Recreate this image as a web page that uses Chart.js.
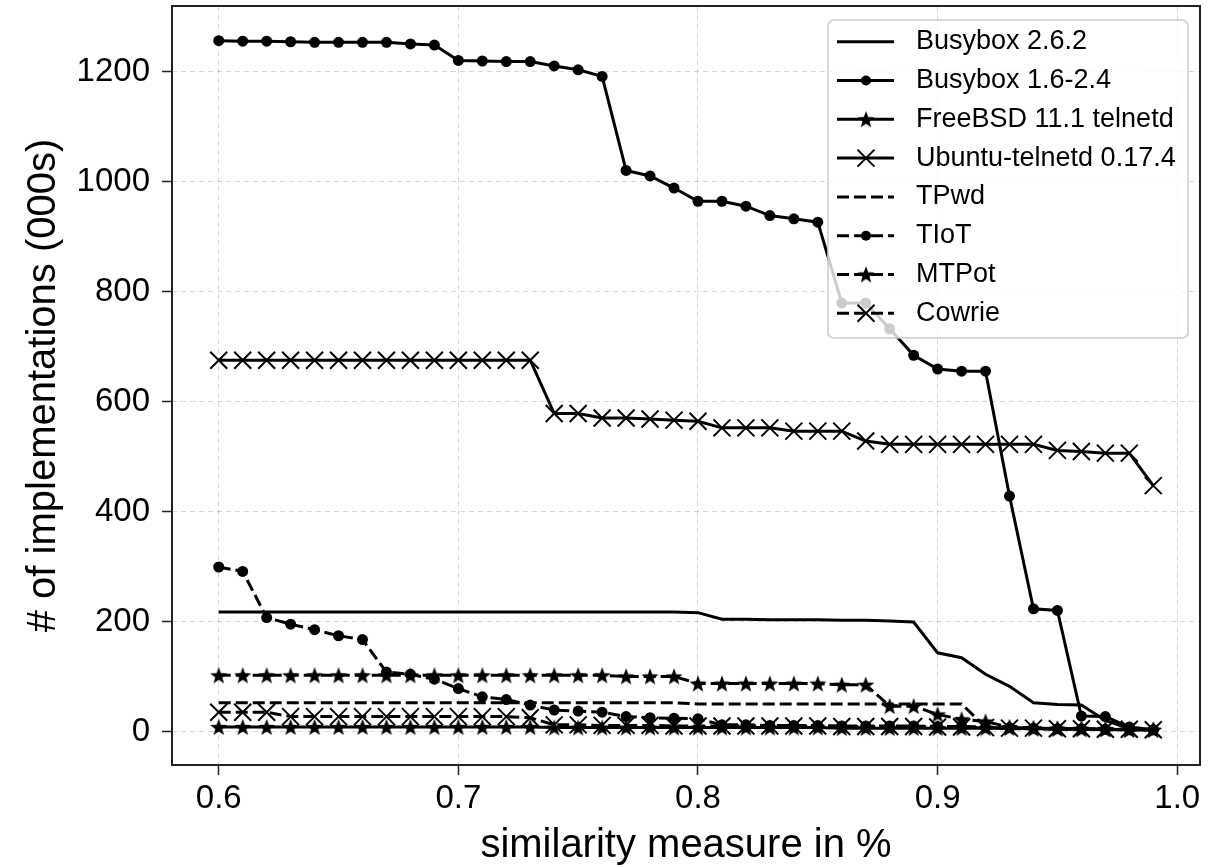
<!DOCTYPE html>
<html>
<head>
<meta charset="utf-8">
<script src="https://cdn.jsdelivr.net/npm/chart.js"></script>
<style>
  html, body { margin: 0; padding: 0; background: #fff; }
  #wrap { width: 1218px; height: 866px; }
</style>
</head>
<body>
<div id="wrap"><canvas id="simChart" width="1218" height="866"></canvas></div>
<script>
// similarity threshold (x axis)
const similarity = [
  0.60, 0.61, 0.62, 0.63, 0.64, 0.65, 0.66, 0.67, 0.68, 0.69,
  0.70, 0.71, 0.72, 0.73, 0.74, 0.75, 0.76, 0.77, 0.78, 0.79,
  0.80, 0.81, 0.82, 0.83, 0.84, 0.85, 0.86, 0.87, 0.88, 0.89,
  0.90, 0.91, 0.92, 0.93, 0.94, 0.95, 0.96, 0.97, 0.98, 0.99
];

// # of implementations (000s)
const busybox262 = [
  217, 217, 217, 217, 217, 217, 217, 217, 217, 217,
  217, 217, 217, 217, 217, 217, 217, 217, 217, 217,
  216, 204, 204, 203, 203, 203, 202, 202, 201, 199,
  143, 134, 104, 82, 52, 49, 48, 20, 5, 3
];
const busybox16 = [
  1256, 1255, 1255, 1254, 1253, 1253, 1253, 1253, 1250, 1248,
  1220, 1219, 1218, 1218, 1210, 1203, 1191, 1020, 1010, 988,
  964, 964, 955, 938, 932, 926, 779, 779, 732, 684,
  659, 655, 655, 428, 223, 220, 28, 27, 8, 3
];
const freebsd = [
  8, 8, 8, 8, 8, 8, 8, 8, 8, 8,
  8, 8, 8, 8, 7, 7, 7, 7, 7, 7,
  7, 7, 7, 7, 7, 7, 6, 6, 6, 6,
  6, 6, 6, 6, 5, 5, 4, 4, 3, 3
];
const ubuntu = [
  675, 675, 675, 675, 675, 675, 675, 675, 675, 675,
  675, 675, 675, 675, 578, 578, 570, 570, 568, 566,
  564, 552, 552, 552, 546, 546, 546, 528, 522, 522,
  522, 522, 522, 522, 522, 511, 509, 506, 506, 447
];
const tpwd = [
  52, 52, 52, 52, 52, 52, 52, 52, 52, 52,
  52, 52, 52, 52, 52, 52, 52, 52, 52, 52,
  50, 50, 50, 50, 50, 50, 50, 50, 50, 50,
  50, 50, 8, 5, 5, 4, 4, 3, 3, 3
];
const tiot = [
  299, 291, 207, 195, 185, 174, 167, 108, 104, 95,
  78, 63, 58, 48, 39, 37, 35, 27, 25, 24,
  23, 12, 12, 11, 11, 11, 10, 10, 10, 10,
  9, 9, 8, 7, 6, 5, 5, 4, 3, 3
];
const mtpot = [
  102, 102, 102, 102, 102, 102, 102, 102, 102, 102,
  102, 102, 102, 102, 102, 102, 102, 100, 100, 100,
  87, 87, 87, 87, 87, 87, 85, 85, 46, 46,
  31, 22, 18, 8, 6, 5, 5, 4, 3, 3
];
const cowrie = [
  35, 35, 35, 27, 27, 27, 27, 27, 27, 27,
  27, 27, 27, 25, 12, 12, 11, 11, 11, 10,
  10, 10, 10, 10, 10, 10, 9, 9, 9, 9,
  8, 8, 7, 6, 6, 5, 5, 4, 4, 3
];

const xTicks = [0.6, 0.7, 0.8, 0.9, 1.0];
const yTicks = [0, 200, 400, 600, 800, 1000, 1200];

const FONT = '"Liberation Sans", Arial, Helvetica, sans-serif';

// filled five-point star, like matplotlib's '*'
function makeStar(size, outer, inner) {
  const c = document.createElement('canvas');
  c.width = size; c.height = size;
  const g = c.getContext('2d');
  g.translate(size / 2, size / 2 + 0.8);
  g.beginPath();
  for (let k = 0; k < 10; k++) {
    const rr = k % 2 === 0 ? outer : inner;
    const a = -Math.PI / 2 + k * Math.PI / 5;
    g.lineTo(rr * Math.cos(a), rr * Math.sin(a));
  }
  g.closePath();
  g.fillStyle = '#000';
  g.fill();
  return c;
}
const star = makeStar(20, 9, 3.7);

const DASH = [12, 5];
const series = [
  { label: 'Busybox 2.6.2', data: busybox262, dash: [], marker: 'none' },
  { label: 'Busybox 1.6-2.4', data: busybox16, dash: [], marker: 'dot' },
  { label: 'FreeBSD 11.1 telnetd', data: freebsd, dash: [], marker: 'star' },
  { label: 'Ubuntu-telnetd 0.17.4', data: ubuntu, dash: [], marker: 'x' },
  { label: 'TPwd', data: tpwd, dash: DASH, marker: 'none' },
  { label: 'TIoT', data: tiot, dash: DASH, marker: 'dot' },
  { label: 'MTPot', data: mtpot, dash: DASH, marker: 'star' },
  { label: 'Cowrie', data: cowrie, dash: DASH, marker: 'x' }
];

function pointOpts(marker) {
  if (marker === 'dot') return { pointStyle: 'circle', pointRadius: 5.5, pointBorderWidth: 0 };
  if (marker === 'star') return { pointStyle: star, pointRadius: 9, pointBorderWidth: 0 };
  if (marker === 'x') return { pointStyle: 'crossRot', pointRadius: 12, pointBorderWidth: 2 };
  return { pointStyle: false, pointRadius: 0 };
}

const datasets = series.map((s, i) => Object.assign({
  label: s.label,
  data: similarity.map((x, k) => ({ x: x, y: s.data[k] })),
  borderColor: '#000',
  backgroundColor: '#000',
  pointBackgroundColor: '#000',
  pointBorderColor: '#000',
  borderWidth: 3,
  borderDash: s.dash,
  tension: 0,
  fill: false,
  marker: s.marker,
  order: series.length - i
}, pointOpts(s.marker)));

function drawMarker(ctx, marker, x, y) {
  ctx.save();
  ctx.fillStyle = '#000';
  ctx.strokeStyle = '#000';
  if (marker === 'dot') {
    ctx.beginPath(); ctx.arc(x, y, 5, 0, Math.PI * 2); ctx.fill();
  } else if (marker === 'star') {
    ctx.drawImage(star, x - star.width / 2, y - star.height / 2);
  } else if (marker === 'x') {
    const d = 12 * Math.SQRT1_2;
    ctx.lineWidth = 2;
    ctx.beginPath();
    ctx.moveTo(x - d, y - d); ctx.lineTo(x + d, y + d);
    ctx.moveTo(x - d, y + d); ctx.lineTo(x + d, y - d);
    ctx.stroke();
  }
  ctx.restore();
}

// box around the plot plus a matplotlib-like legend in the upper right
const frameAndLegend = {
  id: 'frameAndLegend',
  afterDatasetsDraw(chart) {
    const { ctx, chartArea } = chart;
    ctx.save();
    ctx.lineWidth = 2;
    ctx.strokeStyle = '#222';
    ctx.strokeRect(chartArea.left, chartArea.top, chartArea.right - chartArea.left, chartArea.bottom - chartArea.top);

    const bw = 360, bh = 318;
    const bx = chartArea.right - 12 - bw, by = chartArea.top + 14;
    ctx.beginPath();
    ctx.roundRect(bx, by, bw, bh, 6);
    ctx.fillStyle = 'rgba(255,255,255,0.8)';
    ctx.fill();
    ctx.lineWidth = 1.5;
    ctx.strokeStyle = '#cccccc';
    ctx.stroke();

    chart.data.datasets.forEach((ds, i) => {
      const y = by + 21.7 + i * 38.8;
      ctx.setLineDash(ds.borderDash);
      ctx.lineWidth = 3;
      ctx.strokeStyle = '#000';
      ctx.beginPath();
      ctx.moveTo(bx + 9, y);
      ctx.lineTo(bx + 66, y);
      ctx.stroke();
      ctx.setLineDash([]);
      drawMarker(ctx, ds.marker, bx + 38, y);
      ctx.fillStyle = '#000';
      ctx.font = '27px ' + FONT;
      ctx.textBaseline = 'middle';
      ctx.textAlign = 'left';
      ctx.fillText(ds.label, bx + 88, y);
    });
    ctx.restore();
  }
};

new Chart(document.getElementById('simChart'), {
  type: 'line',
  data: { datasets: datasets },
  options: {
    responsive: false,
    animation: false,
    events: [],
    devicePixelRatio: 1,
    layout: { autoPadding: false, padding: { top: 6, right: 18, left: 0, bottom: 0 } },
    scales: {
      x: {
        type: 'linear',
        min: 0.5805,
        max: 1.0095,
        afterBuildTicks: (scale) => { scale.ticks = xTicks.map(v => ({ value: v })); },
        afterFit: (scale) => {
          scale.height = 101;
          scale.paddingLeft = 0;
          scale.paddingRight = 0;
        },
        grid: {
          color: 'rgba(0,0,0,0.16)',
          lineWidth: 1,
          drawTicks: true,
          tickLength: 10,
          tickColor: '#222',
          tickWidth: 1.5,
          tickBorderDash: []
        },
        border: { display: false, dash: [5, 4] },
        ticks: {
          padding: 4,
          color: '#000',
          font: { family: FONT, size: 33 },
          callback: (v) => Number(v).toFixed(1)
        },
        title: {
          display: true,
          text: 'similarity measure in %',
          color: '#000',
          font: { family: FONT, size: 40, lineHeight: 1 },
          padding: { top: 0, bottom: 0 }
        }
      },
      y: {
        type: 'linear',
        min: -61,
        max: 1319,
        afterBuildTicks: (scale) => { scale.ticks = yTicks.map(v => ({ value: v })); },
        afterFit: (scale) => {
          scale.width = 172;
          scale.paddingTop = 0;
          scale.paddingBottom = 0;
        },
        grid: {
          color: 'rgba(0,0,0,0.16)',
          lineWidth: 1,
          drawTicks: true,
          tickLength: 10,
          tickColor: '#222',
          tickWidth: 1.5,
          tickBorderDash: []
        },
        border: { display: false, dash: [5, 4] },
        ticks: {
          padding: 12,
          color: '#000',
          font: { family: FONT, size: 33 },
          callback: (v) => String(v)
        },
        title: {
          display: true,
          text: '# of implementations (000s)',
          color: '#000',
          font: { family: FONT, size: 40, lineHeight: 1.2 },
          padding: { top: 20, bottom: 0 }
        }
      }
    },
    plugins: {
      legend: { display: false },
      tooltip: { enabled: false }
    }
  },
  plugins: [frameAndLegend]
});
</script>
</body>
</html>
